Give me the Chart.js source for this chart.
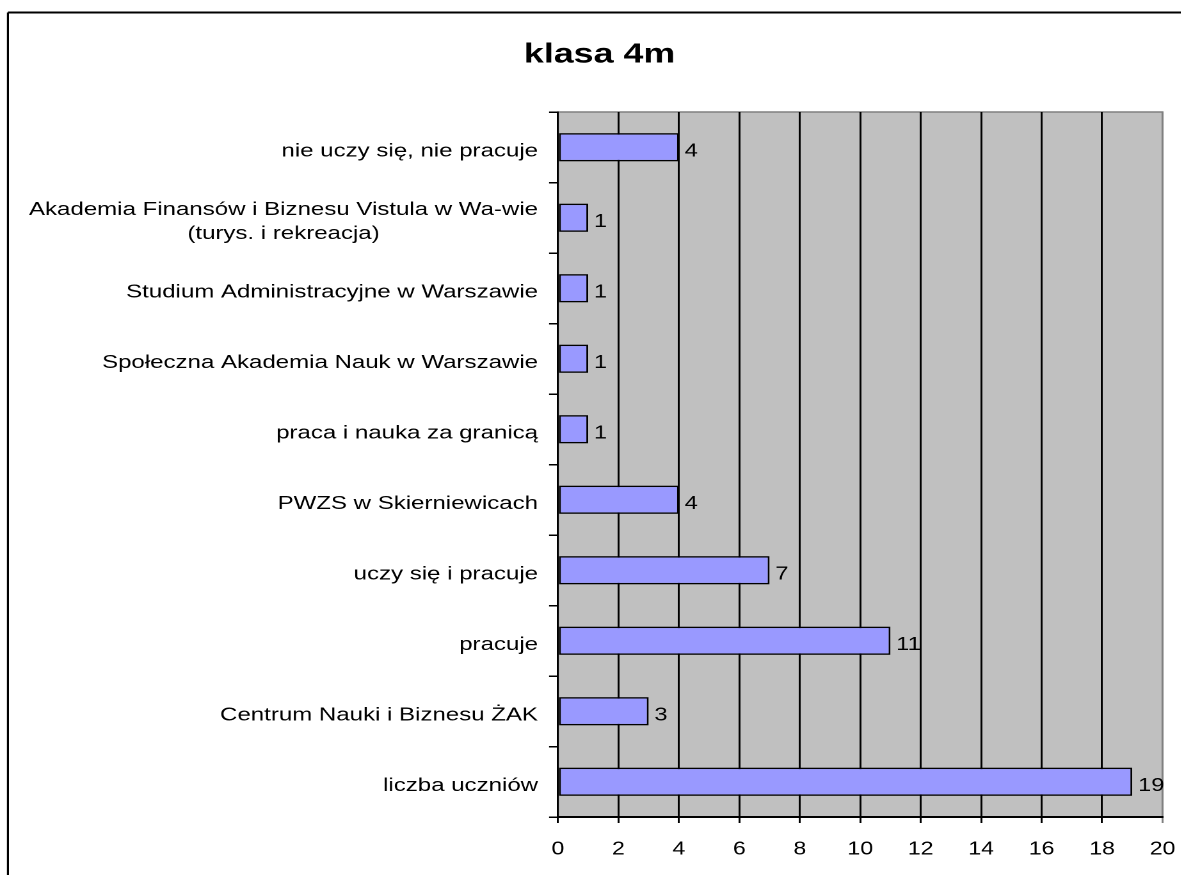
<!DOCTYPE html>
<html>
<head>
<meta charset="utf-8">
<script src="https://cdn.jsdelivr.net/npm/chart.js@4"></script>
<style>
  html, body { margin: 0; padding: 0; background: #fff; overflow: hidden; }
  /* the original picture is stretched horizontally, so the whole chart is too */
  #wrap { position: absolute; left: 0; top: 0; height: 875px; transform-origin: 0 0; }
</style>
</head>
<body>
<div id="wrap"><canvas id="chart"></canvas></div>
<script>
const stretch = 1.28;
const pageW = 1182;
const pageH = 875;
const logicalW = pageW / stretch;

const categories = [
    'nie uczy się, nie pracuje',
    ['Akademia Finansów i Biznesu Vistula w Wa-wie', '(turys. i rekreacja)'],
    'Studium Administracyjne w Warszawie',
    'Społeczna Akademia Nauk w Warszawie',
    'praca i nauka za granicą',
    'PWZS w Skierniewicach',
    'uczy się i pracuje',
    'pracuje',
    'Centrum Nauki i Biznesu ŻAK',
    'liczba uczniów'
];
const counts = [4, 1, 1, 1, 1, 4, 7, 11, 3, 19];
const xTicks = [0, 2, 4, 6, 8, 10, 12, 14, 16, 18, 20];

const fontFamily = '"Liberation Sans", Arial, sans-serif';

const wrap = document.getElementById('wrap');
wrap.style.width = logicalW + 'px';
wrap.style.transform = `scaleX(${stretch})`;

// Background, outer frame and grey plot area
const plotBg = {
    id: 'plotBg',
    beforeDraw(chart) {
        const { ctx, chartArea: a, width, height } = chart;
        ctx.save();
        ctx.fillStyle = '#fff';
        ctx.fillRect(0, 0, width, height);
        ctx.strokeStyle = '#000';
        ctx.lineWidth = 2;
        ctx.beginPath();
        ctx.moveTo(6.2, 12.5);
        ctx.lineTo(width + 5, 12.5);
        ctx.stroke();
        ctx.lineWidth = 1.6;
        ctx.beginPath();
        ctx.moveTo(6.2, 12.5);
        ctx.lineTo(6.2, height + 5);
        ctx.stroke();
        ctx.fillStyle = '#C0C0C0';
        ctx.fillRect(a.left, a.top, a.right - a.left, a.bottom - a.top);
        ctx.strokeStyle = '#808080';
        ctx.lineWidth = 1.5;
        ctx.strokeRect(a.left, a.top, a.right - a.left, a.bottom - a.top);
        ctx.restore();
    }
};

// Category labels (second line centred under the first) and value labels
const textLabels = {
    id: 'textLabels',
    afterDatasetsDraw(chart) {
        const { ctx } = chart;
        const ys = chart.scales.y;
        const labelRight = ys.right - 15.6;
        ctx.save();
        ctx.fillStyle = '#000';
        ctx.textBaseline = 'middle';
        ctx.font = `18.8px ${fontFamily}`;
        categories.forEach((lab, i) => {
            const y = ys.getPixelForValue(i) + 4;
            const lines = Array.isArray(lab) ? lab : [lab];
            const lh = 24;
            const w0 = ctx.measureText(lines[0]).width;
            lines.forEach((ln, j) => {
                const yy = y + (j - (lines.length - 1) / 2) * lh;
                if (j === 0) {
                    ctx.textAlign = 'right';
                    ctx.fillText(ln, labelRight, yy);
                } else {
                    ctx.textAlign = 'center';
                    ctx.fillText(ln, labelRight - w0 / 2, yy);
                }
            });
        });
        ctx.font = `18.5px ${fontFamily}`;
        ctx.textAlign = 'left';
        chart.getDatasetMeta(0).data.forEach((bar, i) => {
            ctx.fillText(String(counts[i]), bar.x + 4.5, bar.y + 4);
        });
        ctx.restore();
    }
};

new Chart(document.getElementById('chart'), {
    type: 'bar',
    data: {
        labels: categories,
        datasets: [{
            data: counts,
            backgroundColor: '#9999FF',
            borderColor: '#000',
            borderWidth: 1.5,
            borderSkipped: false,
            barPercentage: 0.4,
            categoryPercentage: 1
        }]
    },
    options: {
        indexAxis: 'y',
        responsive: true,
        maintainAspectRatio: false,
        animation: false,
        devicePixelRatio: 2,
        layout: { padding: { top: 12, left: 28.6, right: 15.2, bottom: 0 } },
        plugins: {
            legend: { display: false },
            tooltip: { enabled: false },
            title: {
                display: true,
                text: 'klasa 4m',
                color: '#000',
                font: { family: fontFamily, size: 28, weight: 'bold' },
                padding: { top: 26, bottom: 40.4 }
            }
        },
        scales: {
            x: {
                min: 0,
                max: 20,
                afterBuildTicks(scale) {
                    scale.ticks = xTicks.map(v => ({ value: v }));
                },
                afterFit(scale) { scale.height = 58; },
                grid: {
                    color: c => (c.tick && c.tick.value === 20 ? '#808080' : '#000'),
                    lineWidth: 1.5,
                    tickLength: 6
                },
                border: { color: '#000', width: 2 },
                ticks: {
                    color: '#000',
                    padding: 5,
                    maxRotation: 0,
                    font: { family: fontFamily, size: 18, lineHeight: 2.4 }
                }
            },
            y: {
                afterFit(scale) { scale.width = 558 / stretch - 28.6; },
                grid: {
                    offset: true,
                    drawOnChartArea: false,
                    color: '#000',
                    lineWidth: 1.5,
                    tickLength: 7
                },
                border: { color: '#000', width: 1.5 },
                ticks: { display: false }
            }
        }
    },
    plugins: [plotBg, textLabels]
});
</script>
</body>
</html>
